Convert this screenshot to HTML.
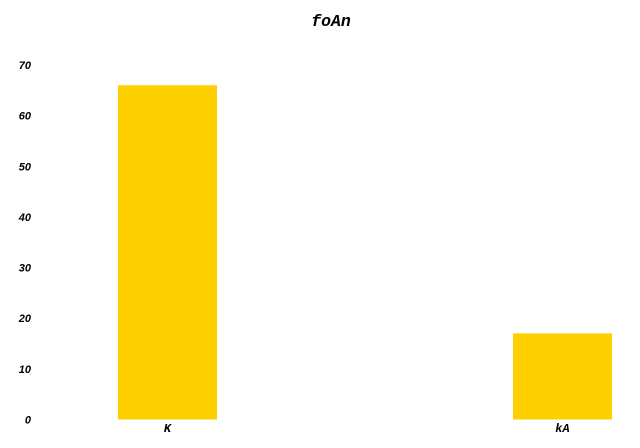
<!DOCTYPE html>
<html><head><meta charset="utf-8"><style>
html,body{margin:0;padding:0;background:#fff;}
svg{display:block;}
.tick{font-family:"Liberation Sans",sans-serif;font-size:11px;font-weight:bold;font-style:italic;fill:#000;}
.cat{font-family:"Liberation Mono",monospace;font-size:12px;font-weight:bold;font-style:italic;fill:#000;}
.title{font-family:"Liberation Mono",monospace;font-size:16.5px;font-weight:bold;font-style:italic;fill:#000;}
</style></head><body>
<svg id="chart" width="640" height="448">
<text class="title" x="331" y="26" text-anchor="middle">foAn</text>
<g id="yaxis"></g>
<g id="bars"></g>
<g id="xaxis"></g>
</svg>
<script>
const categories = ["K", "kA"];
const values = [66, 17];
const yTicks = [0, 10, 20, 30, 40, 50, 60, 70];
const NS = "http://www.w3.org/2000/svg";
const y0 = 419.5, yTop = 65, yMax = 70;
function yScale(v){ return y0 - (v / yMax) * (y0 - yTop); }
const firstCenter = 167.5, step = 395, barW = 99;
function xCenter(i){ return firstCenter + i * step; }
const yaxis = document.getElementById('yaxis');
yTicks.forEach(t => {
  const el = document.createElementNS(NS, 'text');
  el.setAttribute('class', 'tick');
  el.setAttribute('x', 31);
  el.setAttribute('y', yScale(t) + 4);
  el.setAttribute('text-anchor', 'end');
  el.textContent = t;
  
  
  yaxis.appendChild(el);
});
const bars = document.getElementById('bars');
const xaxis = document.getElementById('xaxis');
categories.forEach((c, i) => {
  const r = document.createElementNS(NS, 'rect');
  const top = yScale(values[i]);
  r.setAttribute('x', xCenter(i) - barW / 2);
  r.setAttribute('y', top);
  r.setAttribute('width', barW);
  r.setAttribute('height', y0 - top);
  r.setAttribute('fill', '#ffd000');
  
  
  bars.appendChild(r);
  const t = document.createElementNS(NS, 'text');
  t.setAttribute('class', 'cat');
  t.setAttribute('x', xCenter(i));
  t.setAttribute('y', 432);
  t.setAttribute('text-anchor', 'middle');
  t.textContent = c;
  
  
  xaxis.appendChild(t);
});
</script>
</body></html>
